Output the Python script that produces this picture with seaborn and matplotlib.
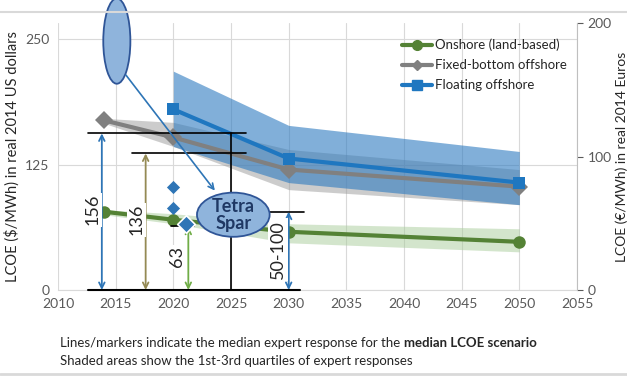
import numpy as np
import pandas as pd
import seaborn as sns
import matplotlib
matplotlib.use('Agg')
import matplotlib.pyplot as plt
from matplotlib.patches import Ellipse
from matplotlib.lines import Line2D

# median LCOE ($/MWh) and quartile bands
onshore_years = [2014, 2020, 2030, 2050]
onshore_med = [78, 70, 58, 48]
onshore_lo = [75, 66, 47, 38]
onshore_hi = [80, 76, 66, 61]

fixed_years = [2014, 2020, 2030, 2050]
fixed_med = [169, 152, 120, 103]
fixed_lo = [166, 143, 100, 85]
fixed_hi = [171, 167, 140, 120]

floating_years = [2020, 2030, 2050]
floating_med = [180, 131, 107]
floating_lo = [143, 107, 85]
floating_hi = [218, 164, 138]

series_names = ['Onshore (land-based)', 'Fixed-bottom offshore', 'Floating offshore']

# blue diamonds (individual project estimates)
diamond_x = [2020, 2020]
diamond_y = [103, 82]
tetra_x = 2021.1
tetra_y = 66

# reference arrows: (x, top value, colour, label)
ref_arrows = [
    (2013.8, 156, '#2E75B6', '156'),
    (2017.6, 136, '#948A54', '136'),
    (2021.3, 63, '#70AD47', '63'),
    (2030.0, 78, '#2E75B6', '50-100'),
]

sns.set_style('white')
plt.rcParams['font.family'] = ['Lato', 'DejaVu Sans']

fig = plt.figure(figsize=(6.27, 3.76), dpi=100)
ax = fig.add_axes([58/627, 1-290/376, (577-58)/627, (290-23)/376])

df = pd.concat([
    pd.DataFrame({'year': onshore_years, 'lcoe': onshore_med, 'tech': series_names[0]}),
    pd.DataFrame({'year': fixed_years, 'lcoe': fixed_med, 'tech': series_names[1]}),
    pd.DataFrame({'year': floating_years, 'lcoe': floating_med, 'tech': series_names[2]}),
])

green = '#548235'
gray = '#808080'
blue = '#1F77C0'

# bands
ax.fill_between(onshore_years, onshore_lo, onshore_hi, color='#A9CD9B', alpha=0.5, lw=0, zorder=1)
ax.fill_between(fixed_years, fixed_lo, fixed_hi, color='#9A9A9A', alpha=0.5, lw=0, zorder=1)
ax.fill_between(floating_years, floating_lo, floating_hi, color='#2E7BC0', alpha=0.6, lw=0, zorder=1)

palette = {series_names[0]: green, series_names[1]: gray, series_names[2]: blue}
markers = {series_names[0]: 'o', series_names[1]: 'D', series_names[2]: 's'}
sns.lineplot(data=df, x='year', y='lcoe', hue='tech', style='tech', palette=palette,
             markers=markers, dashes=False, lw=3, markersize=9, markeredgewidth=0,
             legend=False, ax=ax, zorder=3)

ax.set_xlim(2010, 2055)
ax.set_ylim(0, 266)
ax.set_xticks(range(2010, 2056, 5))
ax.set_yticks([0, 125, 250])
ax.grid(True, color='#D9D9D9', lw=0.8)
ax.set_axisbelow(True)
for s in ['top', 'right', 'left']:
    ax.spines[s].set_visible(False)
ax.spines['bottom'].set_color('#D9D9D9')
ax.tick_params(axis='both', labelsize=10, colors='#595959', length=0, pad=6)
ax.set_xlabel('')
ax.set_ylabel('LCOE ($/MWh) in real 2014 US dollars', fontsize=10.5, color='#262626', labelpad=4)

ax2 = ax.twinx()
ax2.set_ylim(0, 200)
ax2.set_yticks([0, 100, 200])
for s in ['top', 'left', 'bottom']:
    ax2.spines[s].set_visible(False)
ax2.spines['right'].set_color('#BFBFBF')
ax2.tick_params(axis='y', labelsize=10, colors='#595959', length=4, width=0.8, direction='out')
ax2.set_ylabel('LCOE (€/MWh) in real 2014 Euros', fontsize=10, color='#262626')
ax2.yaxis.set_label_coords(1.075, 0.5)

# black reference lines
ax.plot([2012.6, 2026.3], [156, 156], color='black', lw=1.2, zorder=4)
ax.plot([2016.4, 2026.3], [136, 136], color='black', lw=1.2, zorder=4)
ax.plot([2019.8, 2021.8], [64, 64], color='black', lw=1.2, zorder=4)
ax.plot([2028.4, 2031.3], [78, 78], color='black', lw=1.2, zorder=4)
ax.plot([2012.6, 2031.0], [0, 0], color='black', lw=1.5, zorder=4, clip_on=False)
ax.plot([2025, 2025], [0, 156], color='black', lw=1.2, zorder=4)

for x, top, col, lab in ref_arrows:
    ax.annotate('', xy=(x, top), xytext=(x, 0),
                arrowprops=dict(arrowstyle='<->', color=col, lw=1.3, shrinkA=0, shrinkB=0),
                zorder=5, annotation_clip=False)

ax.text(2013.0, 80, '156', rotation=90, fontsize=13, ha='center', va='center',
        bbox=dict(fc='white', ec='none', pad=1), zorder=6)
ax.text(2016.8, 70, '136', rotation=90, fontsize=13, ha='center', va='center',
        bbox=dict(fc='white', ec='none', pad=1), zorder=6)
ax.text(2020.35, 33, '63', rotation=90, fontsize=13, ha='center', va='center',
        bbox=dict(fc='white', ec='none', pad=1), zorder=6)
ax.text(2029.1, 40, '50-100', rotation=90, fontsize=13, ha='center', va='center',
        bbox=dict(fc='white', ec='none', pad=1.5), zorder=6)

# diamonds
ax.scatter(diamond_x, diamond_y, marker='D', s=45, color='#2E75B6', lw=0, zorder=7)
ax.scatter([tetra_x], [tetra_y], marker='D', s=80, color='#2E75B6', edgecolor='white', lw=1.2, zorder=7)

# Tetra Spar callout
ax.add_patch(Ellipse((2025.2, 75), 6.3, 44, fc='#8FB4DC', ec='#2F5597', lw=1.3, zorder=8))
ax.text(2025.2, 75, 'Tetra\nSpar', ha='center', va='center', fontsize=13, fontweight='bold',
        color='#1F3864', linespacing=1.0, zorder=9)
ax.add_patch(Ellipse((2015.1, 248), 2.35, 85, fc='#8FB4DC', ec='#2F5597', lw=1.3,
                     zorder=8, clip_on=False))
ax.annotate('', xy=(2023.6, 99), xytext=(2015.9, 214),
            arrowprops=dict(arrowstyle='->', color='#2E75B6', lw=1.2, shrinkA=0, shrinkB=0),
            zorder=8, annotation_clip=False)

handles = [Line2D([], [], color=palette[n], marker=markers[n], lw=3, markersize=7 if n != series_names[1] else 5)
           for n in series_names]
ax.legend(handles, series_names, loc='upper left', bbox_to_anchor=(0.64, 0.985), frameon=False,
          fontsize=9.5, handlelength=2.3, handletextpad=0.2, labelspacing=0.6, labelcolor='#262626')

fig.text(60/627, 1-343/376, 'Lines/markers indicate the median expert response for the ',
         fontsize=9.5, va='center', color='#262626')
fig.text(60/627, 1-361/376, 'Shaded areas show the 1st-3rd quartiles of expert responses',
         fontsize=9.5, va='center', color='#262626')
fig.canvas.draw()
t0 = fig.texts[0]
bb = t0.get_window_extent()
fig.text(bb.x1/fig.bbox.width, 1-343/376, 'median LCOE scenario', fontsize=9.5,
         fontweight='bold', va='center', color='#262626')

fig.add_artist(Line2D([0, 1], [1-12/376, 1-12/376], color='#D9D9D9', lw=1.5))
fig.add_artist(Line2D([0, 1], [1-374/376, 1-374/376], color='#D9D9D9', lw=2))

fig.savefig('out.png', dpi=100)
